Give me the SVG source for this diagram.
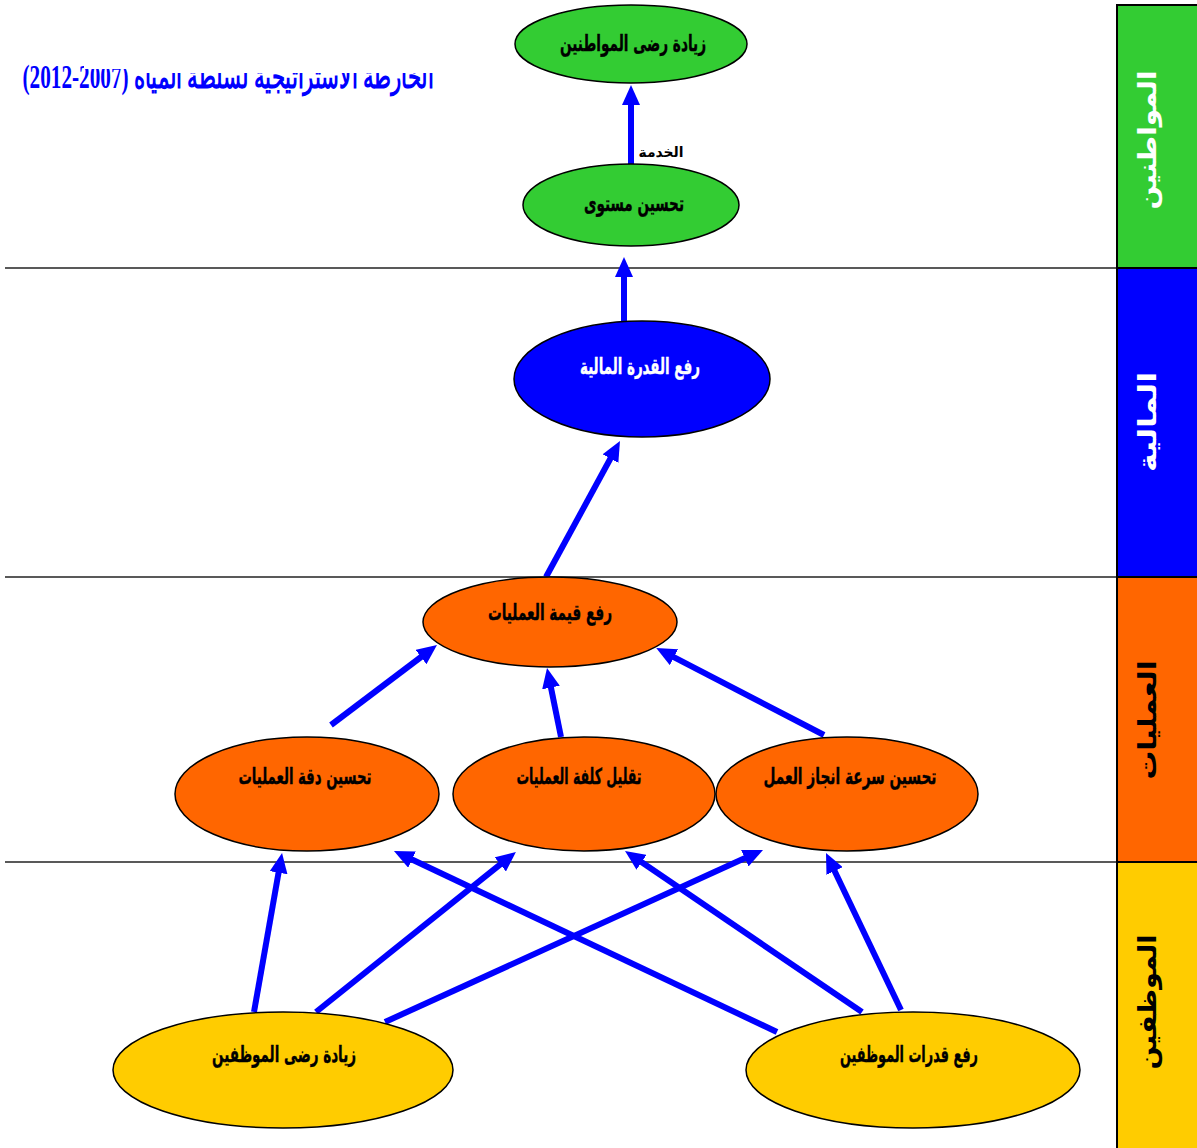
<svg xmlns="http://www.w3.org/2000/svg" width="1197" height="1148" viewBox="0 0 1197 1148">
<style>
.node ellipse{stroke:#000;stroke-width:1.5}
.lbl{font-family:"DejaVu Sans",sans-serif;font-weight:bold;font-size:22px;text-anchor:middle;fill:#000;stroke:#000;stroke-width:0.4}
.wt{fill:#fff;stroke:#fff}
.side{font-family:"DejaVu Sans",sans-serif;font-weight:bold;font-size:25px;text-anchor:middle;dominant-baseline:central}
.conn line{stroke:#0000FF;stroke-width:6;marker-end:url(#ah)}
.sep{stroke:#222;stroke-width:1.5}
.band{stroke:#000;stroke-width:2}
</style>
<defs>
<marker id="ah" viewBox="0 0 20 18" refX="10" refY="9" markerWidth="20" markerHeight="18" markerUnits="userSpaceOnUse" orient="auto"><path d="M0,0 L20,9 L0,18 z" fill="#0000FF"/></marker>
<clipPath id="tc"><path d="M0,0 H84 V69 H135 V73 H470 V110 H0 Z"/></clipPath>
</defs>
<rect width="1197" height="1148" fill="#fff"/>

<g id="title" clip-path="url(#tc)">
<text x="228" y="88" direction="rtl" text-anchor="middle" textLength="411" lengthAdjust="spacingAndGlyphs" font-family="'Liberation Serif','DejaVu Serif',serif" font-weight="bold" font-size="33" fill="#0000FF">الخارطة الاستراتيجية لسلطة المياه (2007-2012)</text>
</g>

<g id="separators">
<line class="sep" x1="5" y1="268" x2="1117" y2="268"/>
<line class="sep" x1="5" y1="577" x2="1117" y2="577"/>
<line class="sep" x1="5" y1="862" x2="1117" y2="862"/>
</g>

<g id="band-citizens">
<rect class="band" x="1117" y="5" width="82" height="263" fill="#33CC33"/>
<text class="side" transform="translate(1147,140) rotate(-90)" fill="#fff" textLength="139" lengthAdjust="spacingAndGlyphs">المواطنين</text>
</g>
<g id="band-finance">
<rect class="band" x="1117" y="268" width="82" height="309" fill="#0000FF"/>
<text class="side" transform="translate(1147,422) rotate(-90)" fill="#fff" textLength="100" lengthAdjust="spacingAndGlyphs">المالية</text>
</g>
<g id="band-operations">
<rect class="band" x="1117" y="577" width="82" height="285" fill="#FF6600"/>
<text class="side" transform="translate(1147,720) rotate(-90)" fill="#000" textLength="119" lengthAdjust="spacingAndGlyphs">العمليات</text>
</g>
<g id="band-employees">
<rect class="band" x="1117" y="862" width="82" height="290" fill="#FFCC00"/>
<text class="side" transform="translate(1147,1002) rotate(-90)" fill="#000" textLength="135" lengthAdjust="spacingAndGlyphs">الموظفين</text>
</g>

<g id="connectors" class="conn">
<line x1="631" y1="164" x2="631" y2="95"/>
<line x1="624" y1="325" x2="624" y2="267"/>
<line x1="546" y1="577" x2="615.2" y2="449.8"/>
<line x1="331" y1="725" x2="429" y2="651"/>
<line x1="561" y1="737" x2="549" y2="677.8"/>
<line x1="824" y1="735" x2="665.1" y2="652.6"/>
<line x1="254" y1="1012" x2="280.3" y2="862.8"/>
<line x1="316" y1="1012" x2="508.1" y2="858.2"/>
<line x1="385" y1="1022" x2="753.9" y2="854.1"/>
<line x1="777" y1="1032" x2="403" y2="855.3"/>
<line x1="862" y1="1012" x2="633.3" y2="856.6"/>
<line x1="901" y1="1010" x2="830.3" y2="862"/>
<text x="661" y="157" font-family="'DejaVu Sans',sans-serif" font-weight="bold" font-size="14" text-anchor="middle" textLength="45" lengthAdjust="spacingAndGlyphs">الخدمة</text>
</g>

<g id="n-citizen-sat" class="node">
<ellipse cx="631" cy="44" rx="116" ry="39" fill="#33CC33"/>
<text class="lbl" x="633" y="51" textLength="146" lengthAdjust="spacingAndGlyphs">زيادة رضى المواطنين</text>
</g>
<g id="n-service" class="node">
<ellipse cx="631" cy="205" rx="108" ry="41" fill="#33CC33"/>
<text class="lbl" x="634" y="211" textLength="100" lengthAdjust="spacingAndGlyphs">تحسين مستوى</text>
</g>
<g id="n-finance" class="node">
<ellipse cx="642" cy="379" rx="128" ry="58" fill="#0000FF"/>
<text class="lbl wt" x="640" y="374" textLength="120" lengthAdjust="spacingAndGlyphs">رفع القدرة المالية</text>
</g>
<g id="n-ops-value" class="node">
<ellipse cx="550" cy="622" rx="127" ry="45" fill="#FF6600"/>
<text class="lbl" x="550" y="620" textLength="124" lengthAdjust="spacingAndGlyphs">رفع قيمة  العمليات</text>
</g>
<g id="n-accuracy" class="node">
<ellipse cx="307" cy="794" rx="132" ry="57" fill="#FF6600"/>
<text class="lbl" x="305" y="784" textLength="133" lengthAdjust="spacingAndGlyphs">تحسين دقة العمليات</text>
</g>
<g id="n-cost" class="node">
<ellipse cx="584" cy="794" rx="131" ry="57" fill="#FF6600"/>
<text class="lbl" x="579" y="784" textLength="125" lengthAdjust="spacingAndGlyphs">تقليل كلفة العمليات</text>
</g>
<g id="n-speed" class="node">
<ellipse cx="847" cy="794" rx="131" ry="57" fill="#FF6600"/>
<text class="lbl" x="850" y="784" textLength="173" lengthAdjust="spacingAndGlyphs">تحسين سرعة انجاز العمل</text>
</g>
<g id="n-emp-sat" class="node">
<ellipse cx="283" cy="1070" rx="170" ry="58" fill="#FFCC00"/>
<text class="lbl" x="284" y="1062" textLength="144" lengthAdjust="spacingAndGlyphs">زيادة رضى الموظفين</text>
</g>
<g id="n-emp-cap" class="node">
<ellipse cx="913" cy="1070" rx="167" ry="58" fill="#FFCC00"/>
<text class="lbl" x="909" y="1062" textLength="138" lengthAdjust="spacingAndGlyphs">رفع قدرات الموظفين</text>
</g>
</svg>
